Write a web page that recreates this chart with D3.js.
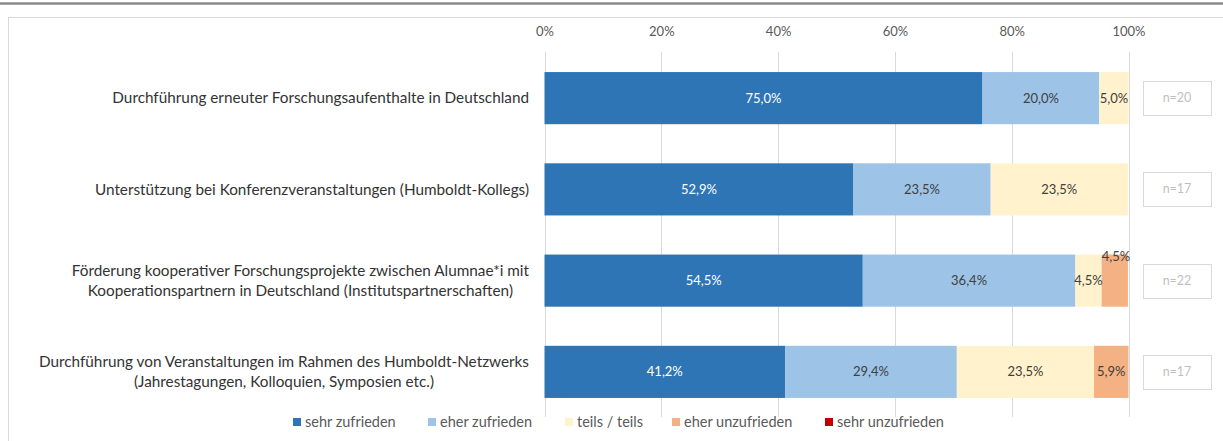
<!DOCTYPE html>
<html><head><meta charset="utf-8">
<script src="https://cdn.jsdelivr.net/npm/d3@7"></script>
<style>
html,body{margin:0;padding:0;background:#fff;}
svg{display:block;font-family:Lato, "Open Sans", sans-serif;}
</style></head>
<body>
<svg id="chart" width="1223" height="441"></svg>
<script>
const categories = [
  ["Durchführung erneuter Forschungsaufenthalte in Deutschland"],
  ["Unterstützung bei Konferenzveranstaltungen (Humboldt-Kollegs)"],
  ["Förderung kooperativer Forschungsprojekte zwischen Alumnae*i mit", "Kooperationspartnern in Deutschland (Institutspartnerschaften)"],
  ["Durchführung von Veranstaltungen im Rahmen des Humboldt-Netzwerks", "(Jahrestagungen, Kolloquien, Symposien etc.)"]
];
const seriesNames = ["sehr zufrieden", "eher zufrieden", "teils / teils", "eher unzufrieden", "sehr unzufrieden"];
const sehrZufrieden   = [75.0, 52.9, 54.5, 41.2];
const eherZufrieden   = [20.0, 23.5, 36.4, 29.4];
const teilsTeils      = [5.0, 23.5, 4.5, 23.5];
const eherUnzufrieden = [0, 0, 4.5, 5.9];
const sehrUnzufrieden = [0, 0, 0, 0];
const nValues = [20, 17, 22, 17];
const tickValues = [0, 20, 40, 60, 80, 100];
const colors = ["#2e75b6", "#9dc3e6", "#fff2cc", "#f4b183", "#c00000"];
const labelColors = ["#ffffff", "#404040", "#404040", "#404040", "#404040"];

const series = [sehrZufrieden, eherZufrieden, teilsTeils, eherUnzufrieden, sehrUnzufrieden];
const svg = d3.select("#chart");

// frame
svg.append("line").attr("x1",0).attr("x2",1223).attr("y1",3.5).attr("y2",3.5)
  .attr("stroke","#8a8a8a").attr("stroke-width",2.5);
svg.append("rect").attr("x",8.5).attr("y",17.5).attr("width",1240).attr("height",460)
  .attr("fill","none").attr("stroke","#d9d9d9");

const x = d3.scaleLinear().domain([0,100]).range([544.5,1128.5]);
const idx = d3.range(categories.length);
const y = d3.scaleBand().domain(idx).range([52.5,417.5]).paddingInner(0.4286).paddingOuter(0.2143);

// gridlines
svg.append("g").selectAll("line").data(tickValues).join("line")
  .attr("x1",d=>Math.round(x(d))+0.5).attr("x2",d=>Math.round(x(d))+0.5)
  .attr("y1",52).attr("y2",417)
  .attr("stroke","#d9d9d9").attr("stroke-width",1);

// top axis labels
const axis = d3.axisTop(x).tickValues(tickValues).tickFormat(d=>d+"%").tickSize(0).tickPadding(0);
const ag = svg.append("g").attr("transform","translate(0,36)").call(axis);
ag.select(".domain").remove();
ag.selectAll("text").attr("fill","#595959").attr("font-size",13).attr("font-family","Lato, sans-serif");

// stacked data
const rows = idx.map(i => {
  let acc = 0;
  return series.map((s, k) => { const v = s[i]; const seg = {i, k, v, x0: acc, x1: acc + v}; acc += v; return seg; });
});
const segs = rows.flat();

svg.append("g").selectAll("rect").data(segs.filter(d=>d.v>0)).join("rect")
  .attr("x",d=>x(d.x0)).attr("width",d=>x(d.x1)-x(d.x0))
  .attr("y",d=>y(d.i)).attr("height",y.bandwidth())
  .attr("fill",d=>colors[d.k]);

const fmt = v => v.toFixed(1).replace(".", ",") + "%";
const lifted = d => d.k > 0 && d.v < 5 && series[d.k-1][d.i] < 5;
svg.append("g").selectAll("text").data(segs.filter(d=>d.v>0)).join("text")
  .attr("x",d=> lifted(d) ? x(d.x1) - 12 : (x(d.x0)+x(d.x1))/2)
  .attr("y",d=> lifted(d) ? y(d.i) + 2 : y(d.i)+y.bandwidth()/2)
  .attr("dy","0.35em").attr("text-anchor","middle")
  .attr("font-size",13).attr("fill",d=>labelColors[d.k])
  .text(d=>fmt(d.v));

// category labels
const lg = svg.append("g");
categories.forEach((lines, i) => {
  const g = lg.append("g");
  const lh = 20;
  const cy = y(i) + y.bandwidth()/2;
  const texts = lines.map((t, j) => g.append("text")
    .attr("y", cy + (j - (lines.length-1)/2)*lh).attr("dy","0.35em")
    .attr("font-size",15.3).attr("fill","#333333").attr("text-anchor","middle").text(t));
  const maxW = d3.max(texts, t => t.node().getComputedTextLength());
  texts.forEach(t => t.attr("x", 529 - maxW/2));
});

// n boxes
const nb = svg.append("g").selectAll("g").data(nValues).join("g")
  .attr("transform",(d,i)=>`translate(1143,${Math.round(y(i)+y.bandwidth()/2-17)})`);
nb.append("rect").attr("x",0.5).attr("y",0.5).attr("width",68).attr("height",34)
  .attr("fill","#fff").attr("stroke","#d9d9d9");
nb.append("text").attr("x",34).attr("y",17).attr("dy","0.35em").attr("text-anchor","middle")
  .attr("font-size",12.5).attr("fill","#bfbfbf").text(d=>"n="+d);

// legend
const legendX = [293, 428, 565, 672, 825];
const leg = svg.append("g").selectAll("g").data(seriesNames).join("g")
  .attr("transform",(d,i)=>`translate(${legendX[i]},422)`);
leg.append("rect").attr("x",0).attr("y",-4).attr("width",8).attr("height",8).attr("fill",(d,i)=>colors[i]);
leg.append("text").attr("x",12).attr("y",0).attr("dy","0.35em").attr("font-size",14.5)
  .attr("fill","#595959").text(d=>d);
</script>
</body></html>
